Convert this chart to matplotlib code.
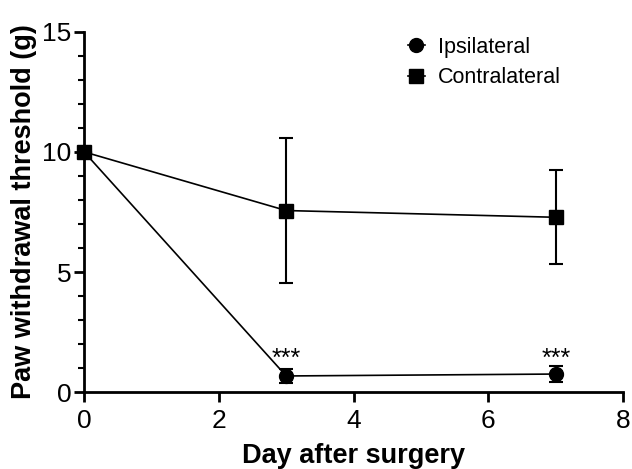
import matplotlib
matplotlib.use('Agg')
import matplotlib.pyplot as plt
from matplotlib.lines import Line2D
from matplotlib.ticker import MultipleLocator

plt.rcParams['font.family'] = ['Liberation Sans', 'DejaVu Sans']

# data
days = [0, 3, 7]
ipsi_mean = [10.0, 0.68, 0.76]
ipsi_err = [0.0, 0.30, 0.32]
contra_mean = [10.0, 7.56, 7.28]
contra_err = [0.0, 3.0, 1.96]
star_days = [3, 7]
star_y = [1.12, 1.12]
star_labels = ['***', '***']

fig = plt.figure(figsize=(6.32, 4.69), dpi=100)
ax = fig.add_axes([0.133, 0.1635, 0.853, 0.769])

# ipsilateral
ax.errorbar(days, ipsi_mean, yerr=ipsi_err, color='black', marker='o',
            markersize=10, linewidth=1.2, elinewidth=1.5, capsize=5,
            capthick=1.5, clip_on=False, zorder=3)
# contralateral
ax.errorbar(days, contra_mean, yerr=contra_err, color='black', marker='s',
            markersize=10, linewidth=1.2, elinewidth=1.5, capsize=5,
            capthick=1.5, clip_on=False, zorder=3)

# significance markers
for d, y, s in zip(star_days, star_y, star_labels):
    ax.text(d, y, s, ha='center', va='baseline', fontsize=18)

ax.set_xlim(0, 8)
ax.set_ylim(0, 15)
ax.xaxis.set_major_locator(MultipleLocator(2))
ax.yaxis.set_major_locator(MultipleLocator(5))
ax.yaxis.set_minor_locator(MultipleLocator(1))

for side in ['top', 'right']:
    ax.spines[side].set_visible(False)
for side in ['left', 'bottom']:
    ax.spines[side].set_linewidth(2)

ax.tick_params(which='major', length=7, width=2, labelsize=19, pad=2)
ax.tick_params(axis='x', which='major', pad=5)
ax.tick_params(which='minor', length=4.5, width=1.5)

ax.set_xlabel('Day after surgery', fontsize=19.5, fontweight='bold', labelpad=7)
ax.set_ylabel('Paw withdrawal threshold (g)', fontsize=19.5,
              fontweight='bold', labelpad=4)

handles = [
    Line2D([], [], color='black', marker='o', markersize=10, linewidth=1.2),
    Line2D([], [], color='black', marker='s', markersize=10, linewidth=1.2),
]
ax.legend(handles, ['Ipsilateral', 'Contralateral'], loc='upper right',
          bbox_to_anchor=(0.92, 1.04), frameon=False, fontsize=15.5,
          handlelength=0.8, handletextpad=0.6, labelspacing=0.45)

fig.savefig('out.png', dpi=100)
